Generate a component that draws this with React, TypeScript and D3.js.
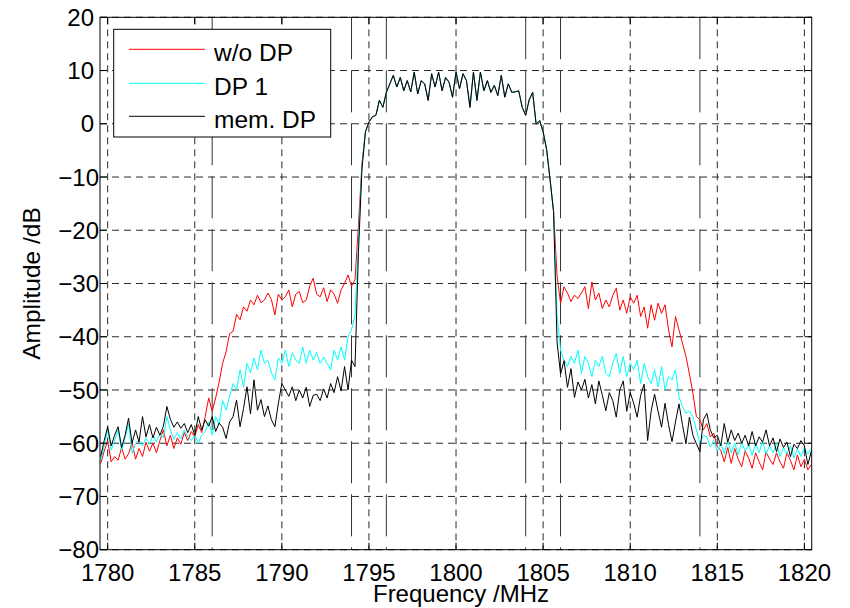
import React from "react";
import * as d3 from "d3";

// ---- data ----
const FREQ_START = 1779.6;
const FREQ_STEP = 0.2;

const xTicks = [1780, 1785, 1790, 1795, 1800, 1805, 1810, 1815, 1820];
const yTicks = [-80, -70, -60, -50, -40, -30, -20, -10, 0, 10, 20];
const channelEdges = [1786, 1794, 1796, 1804, 1806, 1814];

// shared passband 1795.0 .. 1804.8
const passband = [
  0.3, 1.3, 1.6, 4.4, 3.1,
  5.9, 7.5, 9.1, 6.9, 8.7,
  6.2, 8.1, 6.0, 9.7, 5.6,
  8.1, 7.5, 4.4, 9.4, 6.9,
  9.7, 6.2, 8.7, 7.8, 5.0,
  9.7, 6.6, 9.4, 8.1, 3.1,
  9.7, 4.4, 9.7, 6.2, 8.1,
  5.9, 7.2, 5.3, 9.1, 5.0,
  7.5, 5.9, 6.0, 6.2, 3.1,
  1.6, 4.5, 5.9, -0.1, 0.6,
];

// w/o DP : 1779.6 .. 1794.8
const woDpLow = [
  -63.8, -61.5,
  -59.5, -63.5, -62.5, -63.2, -60.8,
  -63.0, -62.0, -59.8, -63.0, -61.0,
  -62.5, -59.8, -61.5, -60.0, -61.8,
  -59.5, -57.5, -60.5, -58.5, -61.0,
  -59.0, -60.2, -58.0, -59.5, -57.8,
  -58.8, -56.5, -58.0, -55.0, -51.5,
  -54.0, -51.5, -48.5, -45.0, -42.8,
  -39.4, -39.0, -35.8, -36.8, -34.4,
  -35.2, -33.1, -34.0, -32.2, -33.6,
  -33.1, -31.8, -33.0, -35.9, -32.0,
  -33.1, -32.5, -31.2, -34.4, -32.0,
  -31.5, -33.6, -33.1, -30.5, -29.0,
  -32.0, -32.5, -30.8, -33.4, -31.2,
  -32.0, -33.7, -31.2, -30.0, -28.4,
  -30.5, -29.3, -19.0, -7.5, -1.5,
];
// w/o DP : 1805.0 .. 1820.4
const woDpHigh = [
  -1.5, -4.8, -10.5, -16.5, -28.5,
  -33.7, -30.6, -31.8, -33.4, -32.2,
  -32.8, -31.8, -30.6, -34.7, -29.7,
  -33.1, -31.8, -34.7, -33.1, -34.4,
  -32.2, -30.9, -35.0, -33.1, -35.6,
  -32.5, -33.7, -32.2, -36.2, -34.4,
  -38.4, -34.0, -36.9, -33.7, -35.6,
  -34.0, -38.7, -41.9, -36.2, -38.7,
  -41.2, -43.7, -47.0, -50.6, -55.0,
  -55.6, -57.5, -56.3, -58.8, -58.1,
  -60.7, -61.3, -63.5, -60.8, -63.8,
  -61.0, -63.0, -64.4, -61.5, -62.8,
  -64.7, -61.8, -63.5, -65.0, -61.6,
  -63.0, -64.0, -61.8, -63.5, -64.7,
  -61.8, -63.2, -65.0, -62.2, -64.4,
  -63.0, -65.0, -64.0,
];

// DP 1
const dp1Low = [
  -63.2, -60.5,
  -57.5, -61.3, -59.5, -57.5, -61.3,
  -59.0, -56.3, -61.9, -60.0, -59.5,
  -60.5, -59.0, -60.2, -58.5, -59.8,
  -58.2, -59.0, -55.0, -57.5, -59.3,
  -58.0, -59.2, -57.5, -58.8, -59.5,
  -58.5, -60.0, -58.5, -57.8, -56.0,
  -58.5, -55.0, -56.5, -52.0, -53.8,
  -51.2, -48.8, -50.0, -46.2, -49.5,
  -45.0, -46.8, -44.0, -46.2, -42.5,
  -45.0, -44.4, -46.8, -48.1, -44.0,
  -45.0, -42.5, -45.6, -43.0, -44.4,
  -45.0, -41.9, -45.0, -42.5, -44.4,
  -43.0, -45.0, -43.8, -45.0, -46.2,
  -42.5, -44.4, -41.9, -44.4, -40.0,
  -38.7, -36.0, -22.0, -8.0, -1.5,
];
const dp1High = [
  -1.5, -4.8, -10.5, -16.5, -36.0,
  -42.5, -44.4, -45.6, -43.7, -45.0,
  -42.5, -46.9, -43.7, -45.0, -47.5,
  -44.4, -45.6, -43.7, -46.9, -47.5,
  -45.0, -43.1, -46.9, -43.7, -47.5,
  -45.0, -46.2, -44.4, -48.8, -45.0,
  -47.5, -48.8, -46.2, -49.4, -45.6,
  -50.0, -47.5, -48.1, -46.2, -51.3,
  -53.1, -54.4, -54.0, -55.0, -57.5,
  -60.0, -58.5, -58.8, -60.7, -59.5,
  -61.5, -60.0, -62.0, -59.5, -61.8,
  -60.0, -62.2, -59.8, -61.5, -60.2,
  -62.3, -60.0, -61.8, -59.6, -62.0,
  -60.5, -61.8, -60.0, -62.5, -60.8,
  -62.0, -60.5, -62.8, -61.0, -62.5,
  -60.8, -62.0, -61.0,
];

// mem. DP
const memDpLow = [
  -62.5, -59.5,
  -56.9, -60.5, -58.5, -56.9, -60.8,
  -58.5, -55.3, -60.0, -57.5, -59.8,
  -55.0, -58.8, -56.5, -59.0, -57.0,
  -58.5, -56.8, -53.1, -55.5, -57.0,
  -56.0, -57.2, -56.3, -58.0, -56.5,
  -58.5, -55.0, -57.5, -55.6, -56.8,
  -55.0, -57.8, -56.2, -57.0, -59.1,
  -56.0, -55.0, -51.9, -56.9, -53.5,
  -49.4, -54.5, -48.1, -53.8, -51.8,
  -55.0, -53.0, -55.6, -56.9, -52.5,
  -48.8, -50.0, -51.2, -49.4, -52.0,
  -50.0, -51.5, -49.5, -53.1, -51.0,
  -50.8, -52.0, -49.8, -51.5, -48.8,
  -50.5, -47.5, -50.2, -45.6, -50.0,
  -44.4, -45.6, -24.0, -8.5, -1.5,
];
const memDpHigh = [
  -1.5, -4.8, -10.5, -16.5, -41.0,
  -47.0, -44.5, -49.5, -46.0, -51.4,
  -48.5, -50.0, -48.0, -51.5, -49.0,
  -52.6, -48.3, -51.0, -53.9, -50.5,
  -52.0, -55.1, -50.0, -48.3, -54.0,
  -50.5, -52.5, -55.1, -51.0, -48.9,
  -59.5, -54.0, -50.8, -54.0, -57.0,
  -52.5, -56.5, -59.7, -56.0, -52.6,
  -56.5, -60.1, -55.1, -58.5, -60.1,
  -61.6, -55.6, -54.4, -57.5, -59.0,
  -58.5, -60.5, -56.3, -59.8, -57.5,
  -59.5, -58.1, -60.0, -58.5, -60.5,
  -57.8, -60.5, -58.8, -59.8, -57.5,
  -60.5, -59.0, -61.6, -59.2, -60.8,
  -59.8, -62.5, -60.2, -61.0, -59.5,
  -60.5, -64.0, -61.5,
];

const seriesNames = ["w/o DP", "DP 1", "mem. DP"];
const seriesColors = ["#ff0000", "#00ffff", "#000000"];
const seriesValues = [
  [...woDpLow, ...passband, ...woDpHigh],
  [...dp1Low, ...passband, ...dp1High],
  [...memDpLow, ...passband, ...memDpHigh],
];

const FONT = "'Liberation Sans', Arial, Helvetica, sans-serif";

export default function App() {
  const W = 850, H = 608;
  const L = 100, R = 811.7, T = 17.3, B = 549.7;
  const x = d3.scaleLinear().domain([1779.56, 1820.42]).range([L, R]);
  const y = d3.scaleLinear().domain([-80, 20]).range([B, T]);

  const line = d3
    .line<number>()
    .x((_, i) => x(FREQ_START + i * FREQ_STEP))
    .y((v) => y(v));

  const fmt = d3.format("d");
  const tickLen = 7;

  const legX = 113.7, legY = 29.3, legW = 217, legH = 107.7;
  const legRows = [49.3, 83.3, 116.3];

  return (
    <svg
      width={W}
      height={H}
      style={{ position: "absolute", left: 0, top: 0, background: "#fff" }}
      fontFamily={FONT}
    >
      <rect x={0} y={0} width={W} height={H} fill="#fff" />
      <defs>
        <clipPath id="plotClip">
          <rect x={L} y={T} width={R - L} height={B - T} />
        </clipPath>
      </defs>

      {/* grid */}
      <g stroke="#2a2a2a" strokeWidth={1} strokeDasharray="7,5" fill="none">
        {xTicks.map((t) => (
          <line key={"gx" + t} x1={x(t)} x2={x(t)} y1={T} y2={B} />
        ))}
        {yTicks.map((t) => (
          <line key={"gy" + t} x1={L} x2={R} y1={y(t)} y2={y(t)} />
        ))}
      </g>

      {/* channel edge markers */}
      <g stroke="#333" strokeWidth={1} strokeDasharray="42,11" fill="none">
        {channelEdges.map((f) => (
          <line key={"ce" + f} x1={x(f)} x2={x(f)} y1={T} y2={B} />
        ))}
      </g>

      {/* data */}
      <g clipPath="url(#plotClip)" fill="none" strokeWidth={1} strokeLinejoin="round">
        {seriesValues.map((vals, k) => (
          <path key={seriesNames[k]} d={line(vals) || ""} stroke={seriesColors[k]} />
        ))}
      </g>

      {/* axes box */}
      <rect x={L} y={T} width={R - L} height={B - T} fill="none" stroke="#000" strokeWidth={1} />

      {/* ticks */}
      <g stroke="#000" strokeWidth={1}>
        {xTicks.map((t) => (
          <g key={"tx" + t}>
            <line x1={x(t)} x2={x(t)} y1={B} y2={B - tickLen} />
            <line x1={x(t)} x2={x(t)} y1={T} y2={T + tickLen} />
          </g>
        ))}
        {yTicks.map((t) => (
          <g key={"ty" + t}>
            <line x1={L} x2={L + tickLen} y1={y(t)} y2={y(t)} />
            <line x1={R} x2={R - tickLen} y1={y(t)} y2={y(t)} />
          </g>
        ))}
      </g>

      {/* tick labels */}
      <g fontSize={24} fill="#000">
        {xTicks.map((t) => (
          <text key={"lx" + t} x={x(t)} y={580.5} textAnchor="middle">
            {fmt(t)}
          </text>
        ))}
        {yTicks.map((t) => (
          <text
            key={"ly" + t}
            x={t < 0 ? 99 : 94}
            y={y(t) + 8.6}
            textAnchor="end"
          >
            {d3.format("")(t)}
          </text>
        ))}
      </g>

      {/* axis labels */}
      <text x={461} y={601.5} fontSize={24} textAnchor="middle" fill="#000">
        Frequency /MHz
      </text>
      <text
        transform={`translate(40,${(T + B) / 2}) rotate(-90)`}
        fontSize={24.5}
        textAnchor="middle"
        fill="#000"
      >
        Amplitude /dB
      </text>

      {/* legend */}
      <g>
        <rect x={legX} y={legY} width={legW} height={legH} fill="#fff" stroke="#000" strokeWidth={1} />
        {seriesNames.map((name, k) => (
          <g key={"leg" + name}>
            <line x1={129} x2={205} y1={legRows[k]} y2={legRows[k]} stroke={seriesColors[k]} strokeWidth={1} />
            <text x={214} y={legRows[k] + 11.5} fontSize={24.5} fill="#000">
              {name}
            </text>
          </g>
        ))}
      </g>
    </svg>
  );
}
